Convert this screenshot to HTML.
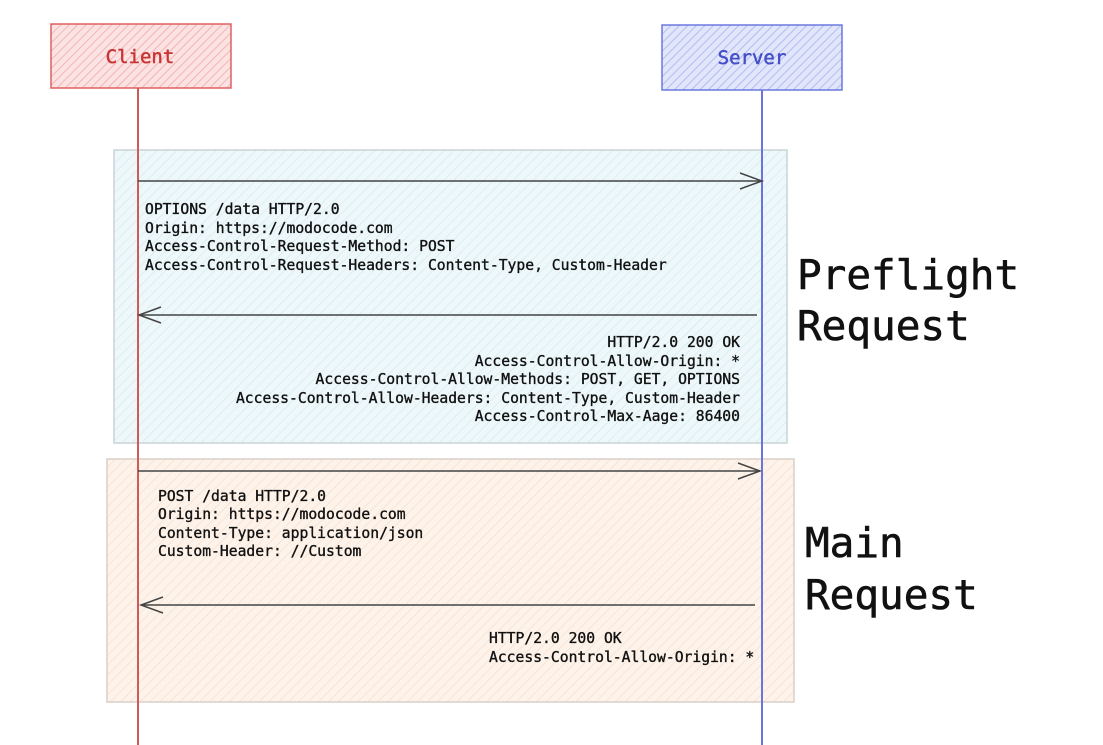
<!DOCTYPE html>
<html><head><meta charset="utf-8"><style>
html,body{margin:0;padding:0;background:#fff;}
svg{display:block;}
text{font-family:"DejaVu Sans Mono","Liberation Mono",monospace;}
</style></head><body>
<svg width="1103" height="745" viewBox="0 0 1103 745" xmlns="http://www.w3.org/2000/svg">
<defs>
<pattern id="hr" width="6" height="6" patternUnits="userSpaceOnUse" patternTransform="rotate(45)"><rect width="6" height="6" fill="#fbe3e3"/><line x1="0" y1="0" x2="0" y2="6" stroke="#f3a8a8" stroke-width="1.6"/></pattern>
<pattern id="hb" width="6" height="6" patternUnits="userSpaceOnUse" patternTransform="rotate(45)"><rect width="6" height="6" fill="#e2e6fb"/><line x1="0" y1="0" x2="0" y2="6" stroke="#a8b2ee" stroke-width="1.6"/></pattern>
<pattern id="hc" width="7" height="7" patternUnits="userSpaceOnUse" patternTransform="rotate(45)"><rect width="7" height="7" fill="#eef8fa"/><line x1="0" y1="0" x2="0" y2="7" stroke="#d3ebef" stroke-width="1.4"/></pattern>
<pattern id="ho" width="7" height="7" patternUnits="userSpaceOnUse" patternTransform="rotate(45)"><rect width="7" height="7" fill="#fdf3ea"/><line x1="0" y1="0" x2="0" y2="7" stroke="#f7dfcb" stroke-width="1.4"/></pattern>
</defs>
<rect x="114" y="150" width="673" height="293" fill="url(#hc)" stroke="#c9d4d6" stroke-width="1.5"/>
<rect x="107" y="459" width="687" height="243" fill="url(#ho)" stroke="#d8cfc8" stroke-width="1.5"/>
<rect x="51" y="24" width="180" height="64" fill="url(#hr)" stroke="#e06060" stroke-width="1.5"/>
<rect x="662" y="25" width="180" height="65" fill="url(#hb)" stroke="#6b78dd" stroke-width="1.5"/>
<text x="140" y="63" text-anchor="middle" font-size="19" fill="#c93535" stroke="#c93535" stroke-width="0.5">Client</text>
<text x="752" y="64" text-anchor="middle" font-size="19" fill="#4550c8" stroke="#4550c8" stroke-width="0.5">Server</text>
<line x1="138" y1="88" x2="138" y2="745" stroke="#d05a5a" stroke-width="2"/>
<line x1="762" y1="90" x2="762" y2="745" stroke="#6a73e0" stroke-width="2"/>
<g stroke="#444" stroke-width="1.5" fill="none">
<line x1="138" y1="181" x2="762" y2="181"/><polyline points="740,173 762,181 740,189"/>
<line x1="757" y1="315" x2="139" y2="315"/><polyline points="161,307 139,315 161,323"/>
<line x1="138" y1="471" x2="760" y2="471"/><polyline points="738,463 760,471 738,479"/>
<line x1="755" y1="605" x2="141" y2="605"/><polyline points="163,597 141,605 163,613"/>
</g>
<g font-size="14.7" fill="#111" stroke="#111" stroke-width="0.35">
<text x="145" y="214">OPTIONS /data HTTP/2.0</text>
<text x="145" y="233">Origin: https://modocode.com</text>
<text x="145" y="251">Access-Control-Request-Method: POST</text>
<text x="145" y="270">Access-Control-Request-Headers: Content-Type, Custom-Header</text>
<g text-anchor="end">
<text x="740" y="347">HTTP/2.0 200 OK</text>
<text x="740" y="366">Access-Control-Allow-Origin: *</text>
<text x="740" y="384">Access-Control-Allow-Methods: POST, GET, OPTIONS</text>
<text x="740" y="403">Access-Control-Allow-Headers: Content-Type, Custom-Header</text>
<text x="740" y="421">Access-Control-Max-Aage: 86400</text>
</g>
<text x="158" y="501">POST /data HTTP/2.0</text>
<text x="158" y="519">Origin: https://modocode.com</text>
<text x="158" y="538">Content-Type: application/json</text>
<text x="158" y="556">Custom-Header: //Custom</text>
<text x="489" y="643">HTTP/2.0 200 OK</text>
<text x="489" y="662">Access-Control-Allow-Origin: *</text>
</g>
<g font-size="41" fill="#111" stroke="#111" stroke-width="0.6">
<text x="797" y="289">Preflight</text>
<text x="797" y="340">Request</text>
<text x="805" y="557">Main</text>
<text x="805" y="609">Request</text>
</g>
</svg>
</body></html>
